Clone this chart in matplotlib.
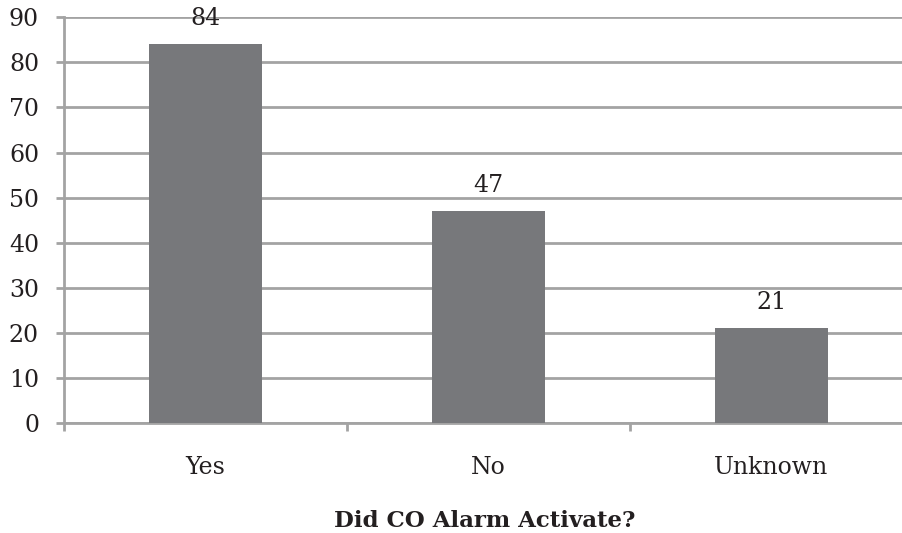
import matplotlib
matplotlib.use("Agg")
import matplotlib.pyplot as plt

categories = ["Yes", "No", "Unknown"]
counts = [84, 47, 21]
y_ticks = [0, 10, 20, 30, 40, 50, 60, 70, 80, 90]

bar_color = "#77787b"
grid_color = "#a3a3a3"
text_color = "#231f20"

plt.rcParams["font.family"] = ["DejaVu Serif"]

fig = plt.figure(figsize=(9.03, 5.33), dpi=100)
ax = fig.add_axes([0.0709, 0.2064, 0.940, 0.7612])

x = list(range(len(categories)))
ax.bar(x, counts, width=0.40, color=bar_color, zorder=3)

for xi, v in zip(x, counts):
    ax.annotate(str(v), (xi, v), xytext=(0, 10), textcoords="offset points",
                ha="center", va="bottom", fontsize=17, color=text_color,
                zorder=4, annotation_clip=False)

ax.set_xlim(-0.5, len(categories) - 0.5)
ax.set_ylim(0, 90)
ax.set_yticks(y_ticks)
ax.yaxis.grid(True, color=grid_color, linewidth=2, zorder=0)
ax.set_axisbelow(True)

for side in ["top", "right"]:
    ax.spines[side].set_visible(False)
for side in ["left", "bottom"]:
    ax.spines[side].set_color(grid_color)
    ax.spines[side].set_linewidth(2)

# category ticks sit on the boundaries between bars
ax.set_xticks([i - 0.5 for i in range(len(categories) + 1)])
ax.set_xticklabels([])
ax.set_xticks(x, minor=True)
ax.set_xticklabels(categories, minor=True, fontsize=17, color=text_color)
ax.tick_params(axis="x", which="major", length=6, width=2, color=grid_color)
ax.tick_params(axis="x", which="minor", length=0, pad=24)
ax.tick_params(axis="y", length=6, width=2, color=grid_color,
               labelsize=17, labelcolor=text_color, pad=12)

ax.set_xlabel("Did CO Alarm Activate?", fontsize=16.5, fontweight="bold",
              color=text_color)
ax.xaxis.set_label_coords(0.4955, -0.214)

fig.savefig("out.png", dpi=100)
